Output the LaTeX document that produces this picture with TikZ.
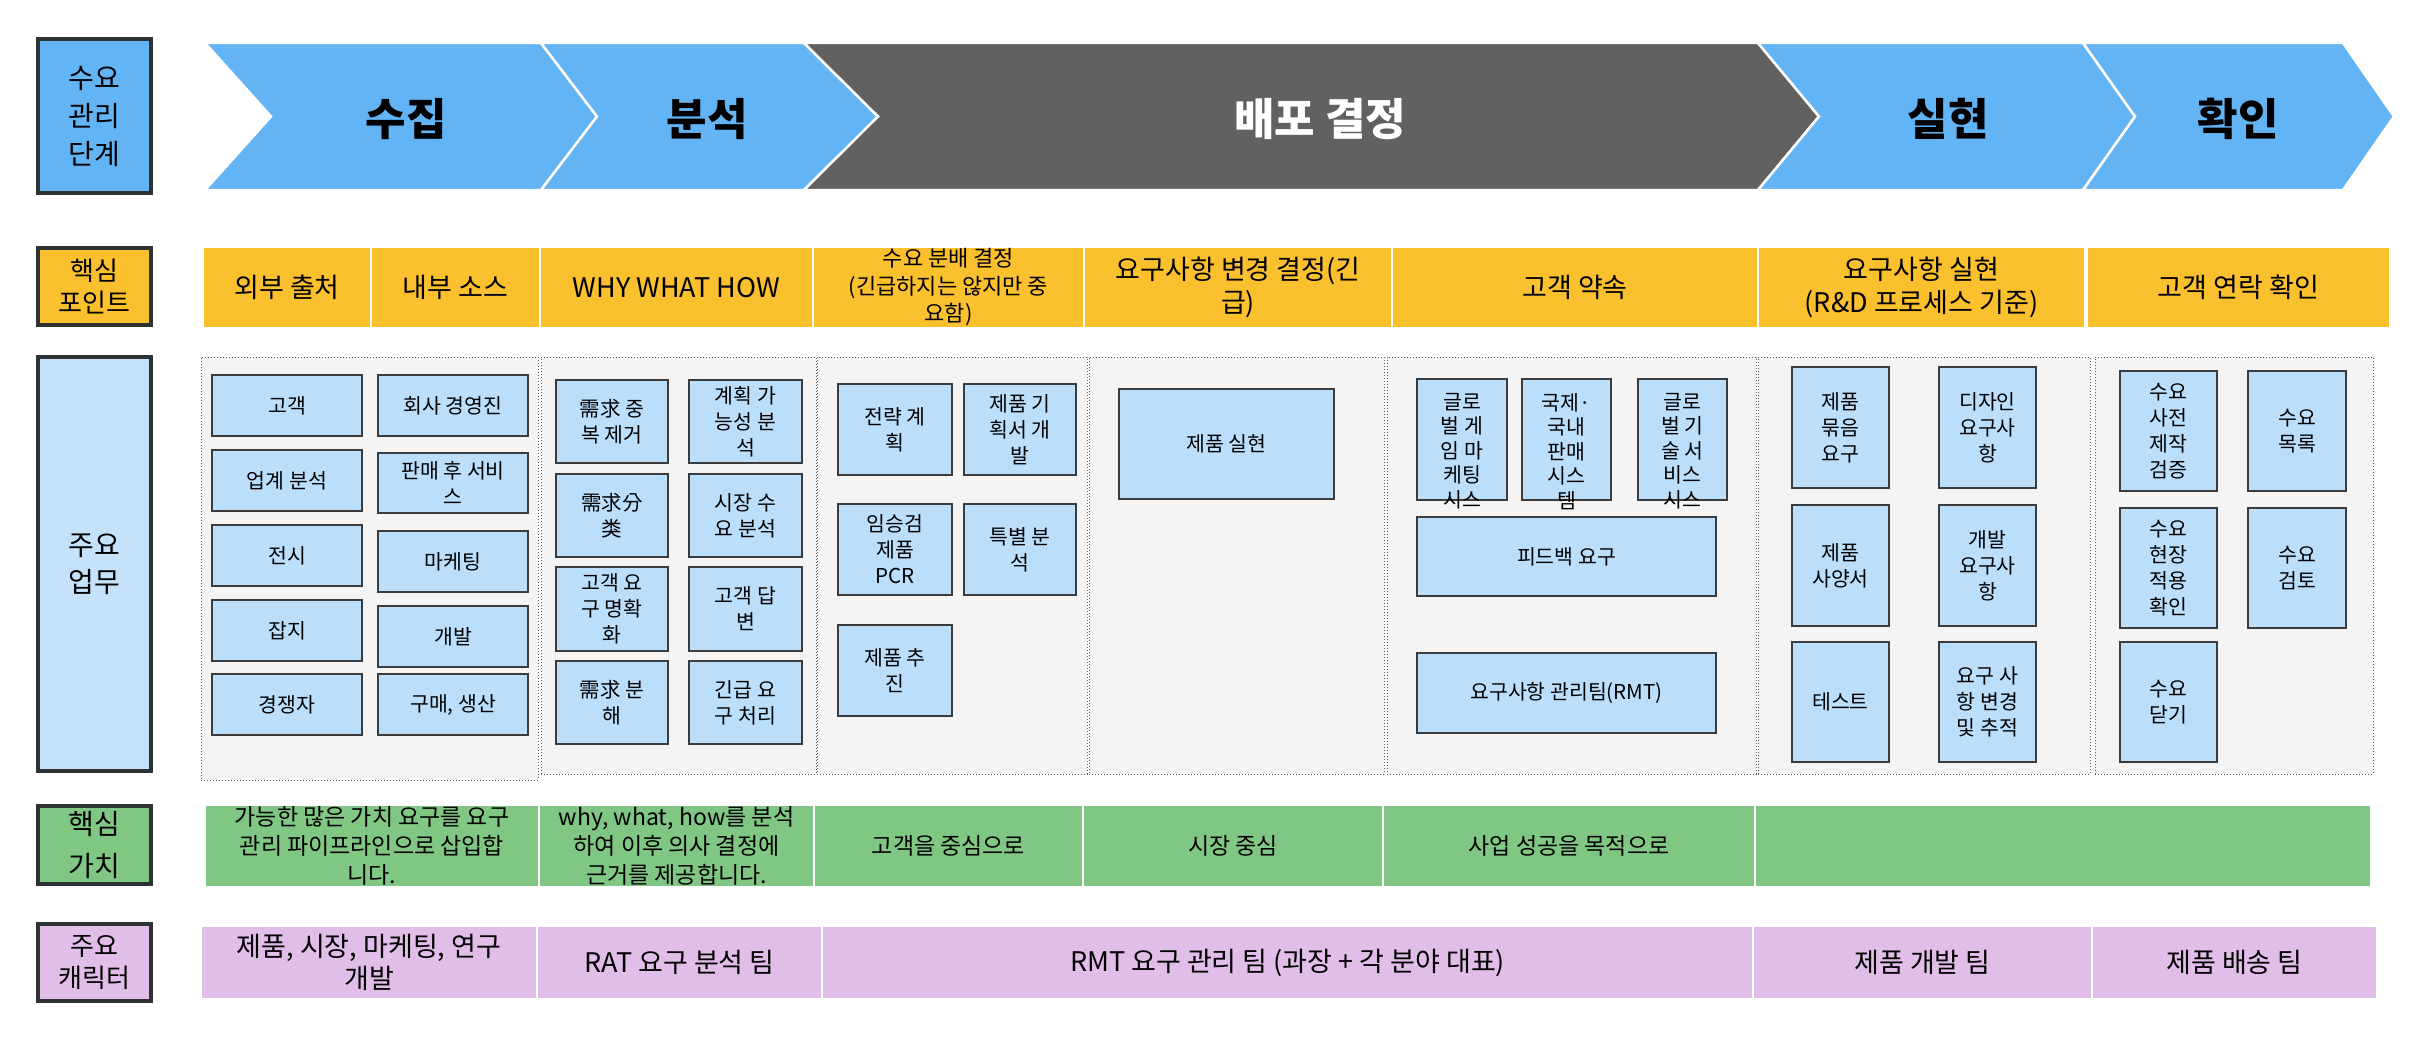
\documentclass[tikz,border=0pt]{standalone}
\usepackage{fontspec}
\setmainfont{Noto Sans CJK KR}
\definecolor{chevblue}{RGB}{99,180,245}
\definecolor{chevdark}{RGB}{97,97,97}
\definecolor{yel}{RGB}{251,192,45}
\definecolor{boxbg}{RGB}{187,222,251}
\definecolor{hdrlb}{RGB}{198,226,251}
\definecolor{panelbg}{RGB}{244,244,244}
\definecolor{panelline}{RGB}{90,90,90}
\definecolor{grn}{RGB}{129,199,132}
\definecolor{purp}{RGB}{225,190,231}
\definecolor{hdrline}{RGB}{45,50,52}
\definecolor{boxline}{RGB}{60,60,60}
\newcommand\rcell[7]{\node[#1, minimum width={(#5)-(#3)}, minimum height={(#6)-(#4)}] (#2) at ({((#3)+(#5))/2},{((#4)+(#6))/2}) {#7};}
\tikzset{
  hdr/.style={draw=hdrline, line width=3.5pt, align=center, inner sep=0pt},
  chev/.style={draw=white, line width=2.5pt, line join=miter},
  chevtxt/.style={font=\fontsize{44}{50}\selectfont\bfseries, inner sep=0pt},
  ycell/.style={fill=yel, draw=white, line width=1.5pt, align=center, inner sep=0pt, font=\fontsize{27}{33}\selectfont},
  panel/.style={fill=panelbg, draw=panelline, dotted, line width=1pt, inner sep=0pt},
  bx/.style={fill=boxbg, draw=boxline, line width=1.3pt, align=center, inner sep=0pt, font=\fontsize{20.5}{26}\selectfont},
  gcell/.style={fill=grn, draw=white, line width=1.5pt, align=center, inner sep=0pt, font=\fontsize{23}{29}\selectfont},
  pcell/.style={fill=purp, draw=white, line width=1.5pt, align=center, inner sep=0pt, font=\fontsize{27}{32}\selectfont},
  olbl/.style={anchor=north, align=center, inner sep=0pt, font=\fontsize{20.5}{24.5}\selectfont}
}
\begin{document}
\begin{tikzpicture}[x=1pt,y=-1pt]
\useasboundingbox[fill=white] (0,0) rectangle (2433,1038);

% ---------- row headers ----------
\rcell{hdr, fill=chevblue, font=\fontsize{28}{38}\selectfont}{h1}{38}{39}{151}{193}{수요\\관리\\단계}
\rcell{hdr, fill=yel, font=\fontsize{26}{32}\selectfont}{h2}{38}{248}{151}{325}{핵심\\포인트}
\rcell{hdr, fill=hdrlb, font=\fontsize{28}{37}\selectfont}{h3}{38}{357}{151}{771}{주요\\업무}
\rcell{hdr, fill=grn, font=\fontsize{28}{42}\selectfont}{h4}{38}{806}{151}{884}{핵심\\가치}
\rcell{hdr, fill=purp, font=\fontsize{26}{32}\selectfont}{h5}{38}{924}{151}{1001}{주요\\캐릭터}

% ---------- chevrons ----------
\filldraw[chev, fill=chevblue] (205,43) -- (541,43) -- (597,116.5) -- (541,190) -- (205,190) -- (271,116.5) -- cycle;
\filldraw[chev, fill=chevblue] (541,43) -- (804,43) -- (878,116.5) -- (804,190) -- (541,190) -- (597,116.5) -- cycle;
\filldraw[chev, fill=chevdark] (804,43) -- (1758,43) -- (1819,116.5) -- (1758,190) -- (804,190) -- (878,116.5) -- cycle;
\filldraw[chev, fill=chevblue] (1758,43) -- (2083,43) -- (2135,116.5) -- (2083,190) -- (1758,190) -- (1819,116.5) -- cycle;
\filldraw[chev, fill=chevblue] (2083,43) -- (2343,43) -- (2394,116.5) -- (2343,190) -- (2083,190) -- (2135,116.5) -- cycle;
\node[chevtxt] (c1) at (406,119) {수집};
\node[chevtxt] (c2) at (707,119) {분석};
\node[chevtxt, text=white] (c3) at (1320,119) {배포 결정};
\node[chevtxt] (c4) at (1948,119) {실현};
\node[chevtxt] (c5) at (2238,119) {확인};

% ---------- key points ----------
\rcell{ycell}{y1}{203}{247}{371}{328}{외부 출처}
\rcell{ycell}{y2}{371}{247}{540}{328}{내부 소스}
\rcell{ycell}{y3}{540}{247}{813}{328}{WHY WHAT HOW}
\rcell{ycell, font=\fontsize{22}{27.5}\selectfont}{y4}{813}{247}{1084}{328}{수요 분배 결정\\(긴급하지는 않지만 중\\요함)}
\rcell{ycell}{y5}{1084}{247}{1392}{328}{요구사항 변경 결정(긴\\급)}
\rcell{ycell}{y6}{1392}{247}{1758}{328}{고객 약속}
\rcell{ycell}{y7}{1758}{247}{2085}{328}{요구사항 실현\\(R\&D 프로세스 기준)}
\rcell{ycell}{y8}{2087}{247}{2390}{328}{고객 연락 확인}

% ---------- panels ----------
\rcell{panel}{p1}{201}{357}{538}{780}{}
\rcell{panel}{p2}{541}{357}{816}{774}{}
\rcell{panel}{p3}{817}{357}{1087}{774}{}
\rcell{panel}{p4}{1089}{357}{1384}{774}{}
\rcell{panel}{p5}{1387}{357}{1756}{774}{}
\rcell{panel}{p6}{1758}{357}{2090}{774}{}
\rcell{panel}{p7}{2095}{357}{2373}{774}{}

% panel 1
\rcell{bx}{a1}{212}{375}{362}{436}{고객}
\rcell{bx}{a2}{212}{450}{362}{511}{업계 분석}
\rcell{bx}{a3}{212}{525}{362}{586}{전시}
\rcell{bx}{a4}{212}{600}{362}{661}{잡지}
\rcell{bx}{a5}{212}{674}{362}{735}{경쟁자}
\rcell{bx}{b1}{378}{375}{528}{436}{회사 경영진}
\rcell{bx}{b2}{378}{453}{528}{513}{판매 후 서비\\스}
\rcell{bx}{b3}{378}{531}{528}{592}{마케팅}
\rcell{bx}{b4}{378}{606}{528}{667}{개발}
\rcell{bx}{b5}{378}{674}{528}{735}{구매, 생산}

% panel 2
\rcell{bx}{d1}{556}{380}{668}{463}{需求 중\\복 제거}
\rcell{bx}{d2}{556}{474}{668}{557}{需求分\\类}
\rcell{bx}{d3}{556}{567}{668}{651}{고객 요\\구 명확\\화}
\rcell{bx}{d4}{556}{661}{668}{744}{需求 분\\해}
\rcell{bx}{e1}{689}{380}{802}{463}{계획 가\\능성 분\\석}
\rcell{bx}{e2}{689}{474}{802}{557}{시장 수\\요 분석}
\rcell{bx}{e3}{689}{567}{802}{651}{고객 답\\변}
\rcell{bx}{e4}{689}{661}{802}{744}{긴급 요\\구 처리}

% panel 3
\rcell{bx}{f1}{838}{384}{952}{475}{전략 계\\획}
\rcell{bx}{f2}{964}{384}{1076}{475}{제품 기\\획서 개\\발}
\rcell{bx}{f3}{838}{504}{952}{595}{임승검\\제품\\PCR}
\rcell{bx}{f4}{964}{504}{1076}{595}{특별 분\\석}
\rcell{bx}{f5}{838}{625}{952}{716}{제품 추\\진}

% panel 4
\rcell{bx}{g1}{1119}{389}{1334}{499}{제품 실현}

% panel 5
\rcell{bx}{k1}{1417}{379}{1507}{500}{}
\rcell{bx}{k2}{1522}{379}{1611}{500}{}
\rcell{bx}{k3}{1638}{379}{1727}{500}{}
\node[olbl] (k1t) at (1462,393) {글로\\벌 게\\임 마\\케팅\\시스};
\node[olbl] (k2t) at (1566.5,393) {국제·\\국내\\판매\\시스\\템};
\node[olbl] (k3t) at (1682.5,393) {글로\\벌 기\\술 서\\비스\\시스};
\rcell{bx}{k4}{1417}{517}{1716}{596}{피드백 요구}
\rcell{bx}{k5}{1417}{653}{1716}{733}{요구사항 관리팀(RMT)}

% panel 6
\rcell{bx}{m1}{1792}{367}{1889}{488}{제품\\묶음\\요구}
\rcell{bx}{m2}{1792}{505}{1889}{626}{제품\\사양서}
\rcell{bx}{m3}{1792}{642}{1889}{762}{테스트}
\rcell{bx}{n1}{1939}{367}{2036}{488}{디자인\\요구사\\항}
\rcell{bx}{n2}{1939}{505}{2036}{626}{개발\\요구사\\항}
\rcell{bx}{n3}{1939}{642}{2036}{762}{요구 사\\항 변경\\및 추적}

% panel 7
\rcell{bx}{q1}{2120}{371}{2217}{491}{수요\\사전\\제작\\검증}
\rcell{bx}{q2}{2120}{508}{2217}{628}{수요\\현장\\적용\\확인}
\rcell{bx}{q3}{2120}{642}{2217}{762}{수요\\닫기}
\rcell{bx}{r1}{2248}{371}{2346}{491}{수요\\목록}
\rcell{bx}{r2}{2248}{508}{2346}{628}{수요\\검토}

% ---------- key values ----------
\rcell{gcell}{v1}{205}{805}{539}{887}{가능한 많은 가치 요구를 요구\\관리 파이프라인으로 삽입합\\니다.}
\rcell{gcell}{v2}{539}{805}{814}{887}{why, what, how를 분석\\하여 이후 의사 결정에\\근거를 제공합니다.}
\rcell{gcell}{v3}{814}{805}{1083}{887}{고객을 중심으로}
\rcell{gcell}{v4}{1083}{805}{1383}{887}{시장 중심}
\rcell{gcell}{v5}{1383}{805}{1755}{887}{사업 성공을 목적으로}
\rcell{gcell}{v6}{1755}{805}{2371}{887}{}

% ---------- main characters ----------
\rcell{pcell}{w1}{201}{926}{537}{999}{제품, 시장, 마케팅, 연구\\개발}
\rcell{pcell}{w2}{537}{926}{822}{999}{RAT 요구 분석 팀}
\rcell{pcell}{w3}{822}{926}{1753}{999}{RMT 요구 관리 팀 (과장 + 각 분야 대표)}
\rcell{pcell}{w4}{1753}{926}{2092}{999}{제품 개발 팀}
\rcell{pcell}{w5}{2092}{926}{2377}{999}{제품 배송 팀}
\end{tikzpicture}
\end{document}
